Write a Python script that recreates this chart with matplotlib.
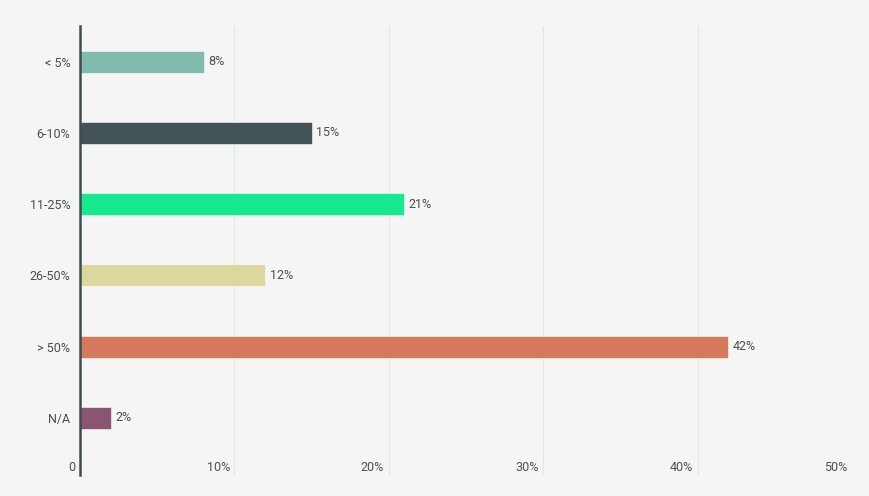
import matplotlib.pyplot as plt
from matplotlib.transforms import blended_transform_factory

categories = ['< 5%', '6-10%', '11-25%', '26-50%', '> 50%', 'N/A']
values = [8, 15, 21, 12, 42, 2]
colors = ['#82bcae', '#435357', '#16e990', '#dcd89c', '#d4795c', '#8a5473']
x_ticks = [0, 10, 20, 30, 40, 50]
x_tick_labels = ['0', '10%', '20%', '30%', '40%', '50%']

bg = '#f4f5f4'
txt = '#4a4f50'
plt.rcParams['font.family'] = ['Roboto', 'DejaVu Sans']

fig = plt.figure(figsize=(8.69, 4.96), dpi=100, facecolor=bg)
ax = fig.add_axes([80 / 869, 21 / 496, 772 / 869, 449 / 496], facecolor=bg)

y = list(range(len(categories)))
ax.barh(y, values, height=0.31, color=colors, edgecolor='white', linewidth=0.4, zorder=3)
for yi, v in zip(y, values):
    ax.text(v + 0.3, yi, f'{v}%', va='center', ha='left', fontsize=9, color=txt)

ax.set_xlim(0, 50)
ax.set_ylim(5.8, -0.5)
ax.set_yticks(y)
ax.set_yticklabels(categories, fontsize=9, color=txt)
ax.tick_params(axis='y', length=0, pad=7)
ax.set_xticks(x_ticks)
ax.set_xticklabels([])
ax.tick_params(axis='x', length=0)
ax.grid(axis='x', color='#e4e6e4', linewidth=0.9, zorder=0)

trans = blended_transform_factory(ax.transData, ax.transAxes)
for xt, lab in zip(x_ticks, x_tick_labels):
    ax.text(xt - 0.3, 0.016, lab, transform=trans, ha='right', va='center',
            fontsize=9, color=txt)

for s in ['top', 'right', 'bottom']:
    ax.spines[s].set_visible(False)
ax.spines['left'].set_color('#3f4d50')
ax.spines['left'].set_linewidth(1.8)
ax.spines['left'].set_zorder(4)

fig.savefig('out.png', dpi=100, facecolor=bg)
